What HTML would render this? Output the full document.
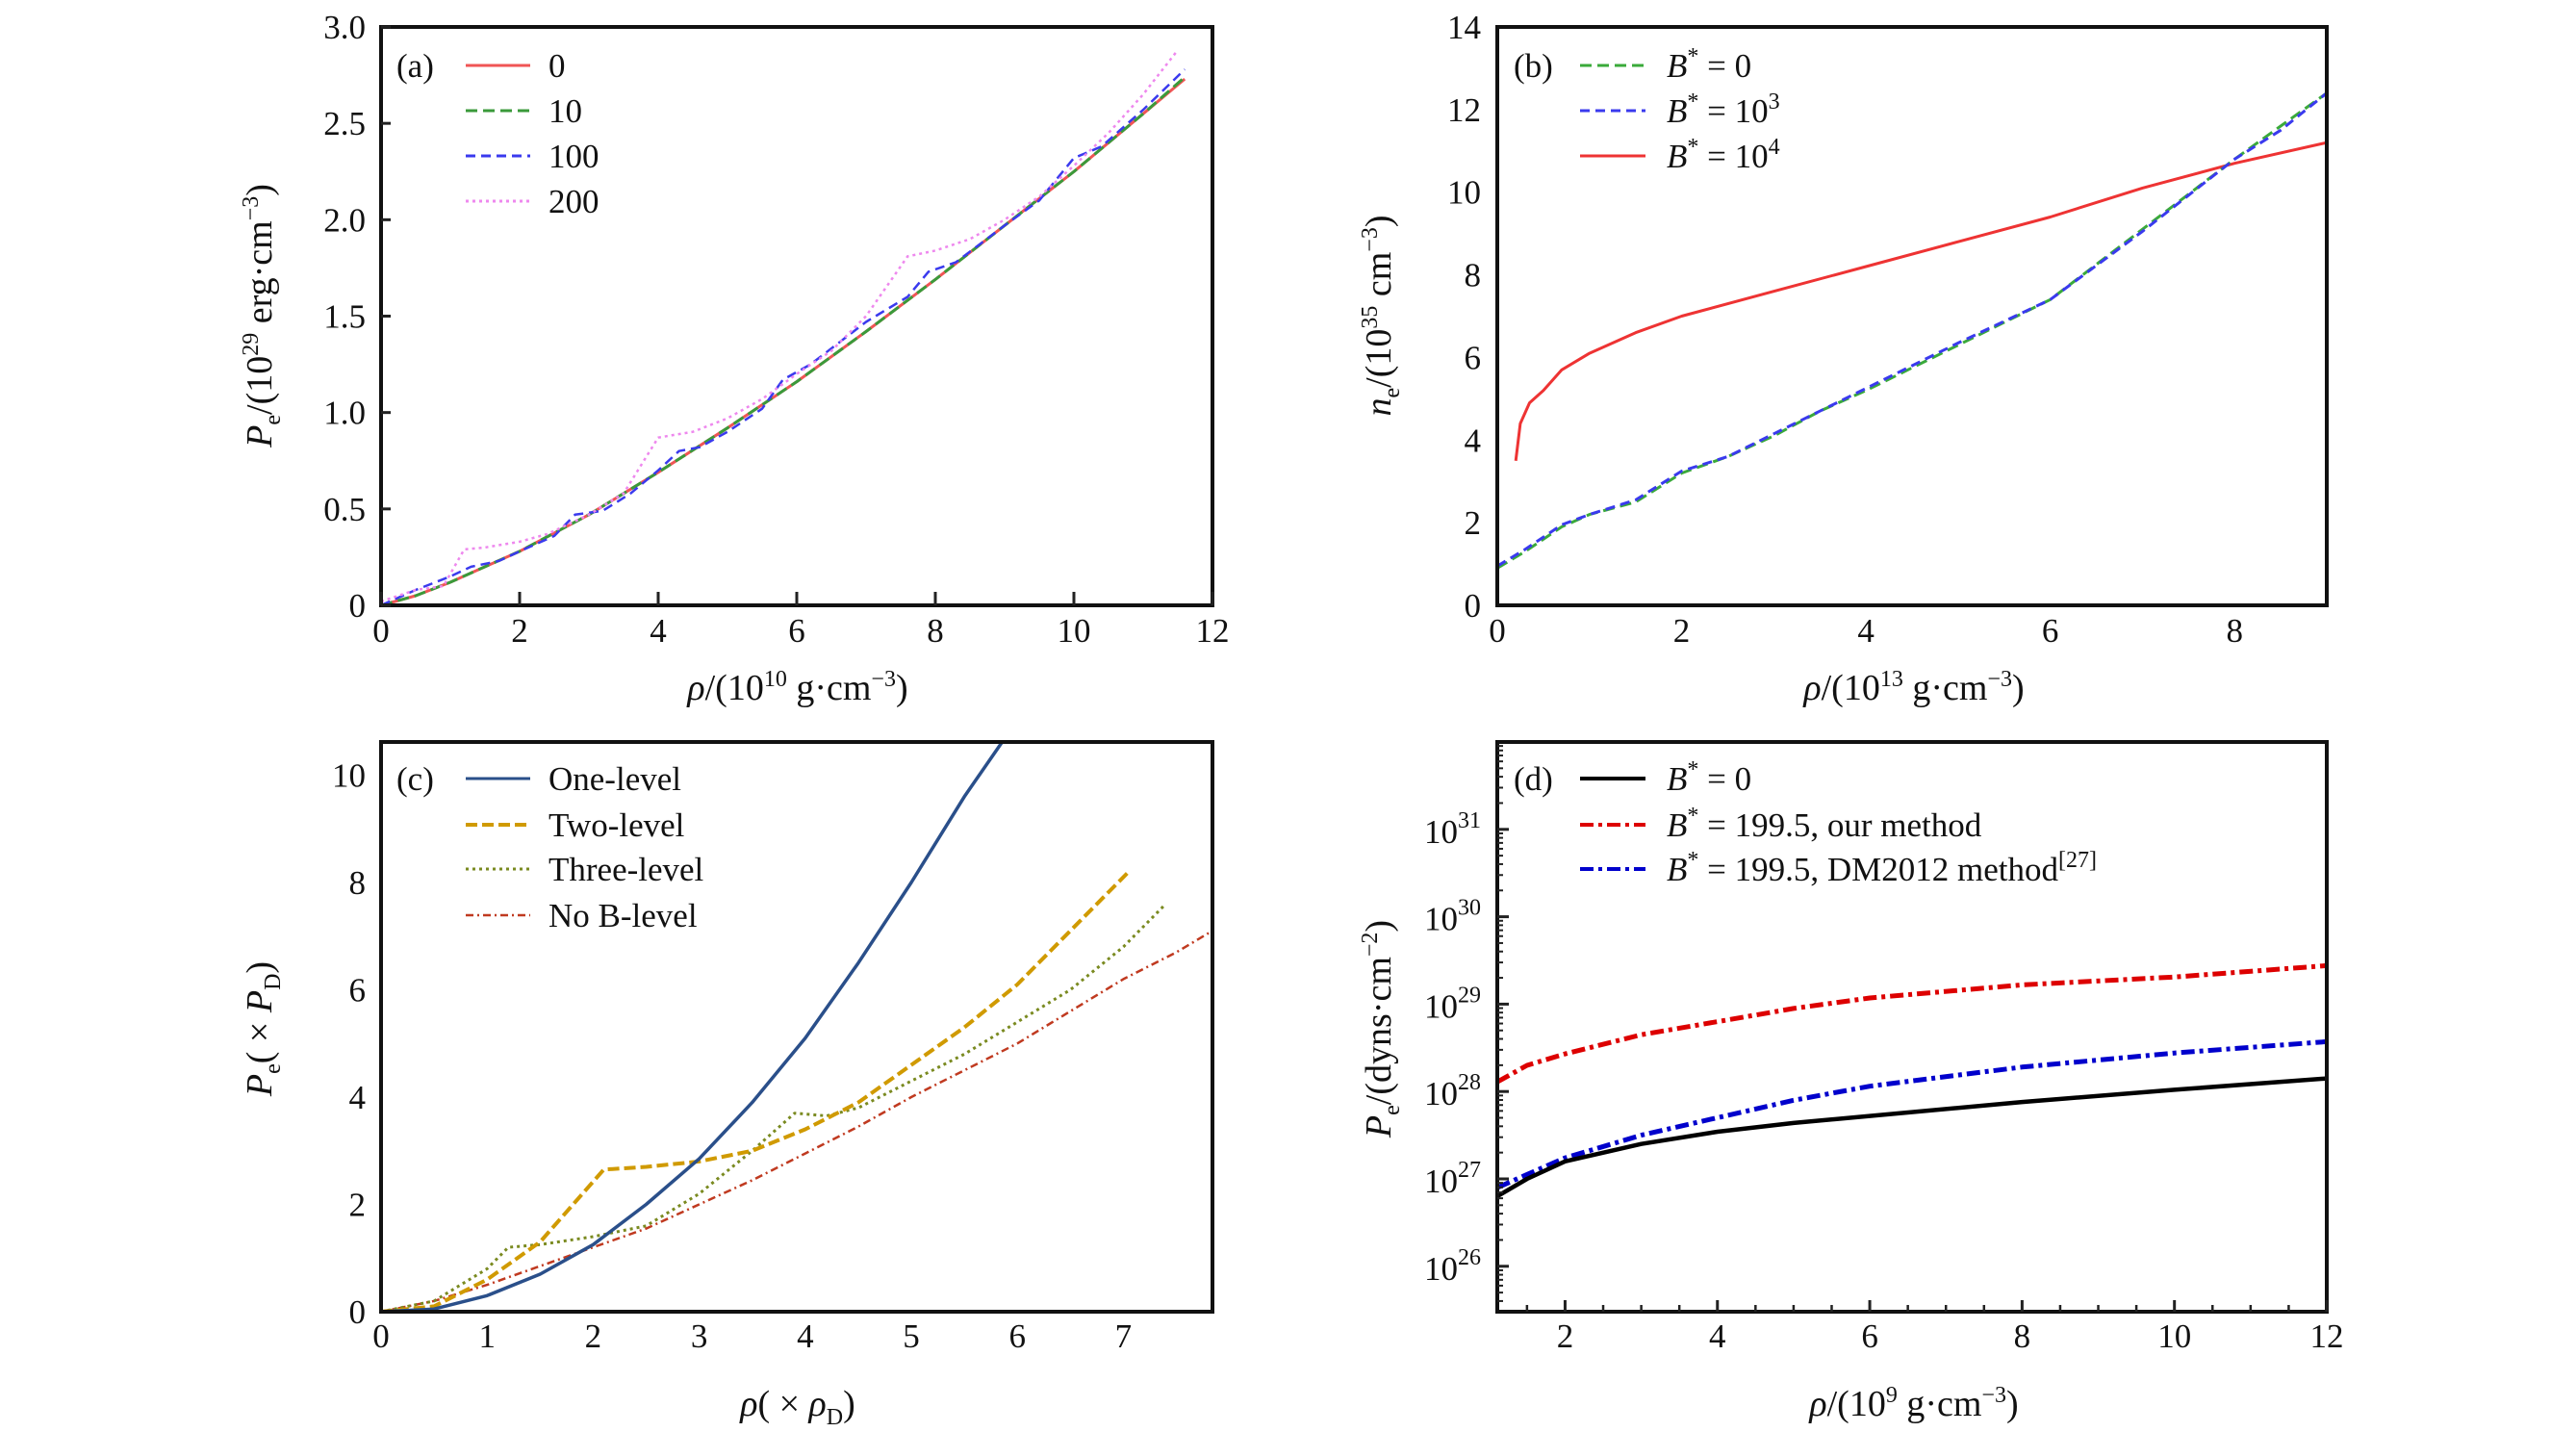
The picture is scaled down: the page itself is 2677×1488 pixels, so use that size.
<!DOCTYPE html>
<html><head><meta charset="utf-8"><style>
html,body{margin:0;padding:0;background:#fff;}
svg{display:block;font-family:"Liberation Serif",serif;}
</style></head><body>
<svg id="fig" width="2677" height="1488" viewBox="0 0 2677 1488"></svg>
<script>
// ---- Panel (a) data ----
const aX0 = [0,0.5,1,1.5,2,3,4,5,6,7,8,9,10,11,11.6];
const aY0 = [0,0.05,0.12,0.2,0.28,0.47,0.69,0.92,1.16,1.42,1.69,1.97,2.25,2.55,2.73];
const aY10 = [0,0.05,0.12,0.2,0.28,0.47,0.69,0.92,1.16,1.42,1.69,1.97,2.25,2.55,2.74];
const aX100 = [0,0.5,1,1.3,1.7,2,2.5,2.8,3.2,3.6,4,4.3,4.6,5,5.5,5.8,6.2,7,7.6,7.9,8.3,9,9.5,10,10.4,11,11.6];
const aY100 = [0,0.08,0.15,0.2,0.23,0.28,0.36,0.47,0.49,0.58,0.7,0.8,0.82,0.9,1.02,1.17,1.25,1.47,1.6,1.73,1.78,1.97,2.1,2.32,2.38,2.57,2.78];
const aX200 = [0,0.5,0.9,1.2,1.5,2,2.4,3,3.5,4,4.5,5,5.5,6,6.5,7,7.6,8,8.5,9,9.5,10,10.5,11,11.5];
const aY200 = [0.02,0.08,0.1,0.29,0.3,0.33,0.37,0.47,0.58,0.87,0.9,0.97,1.07,1.2,1.32,1.5,1.81,1.84,1.9,2.0,2.12,2.28,2.45,2.65,2.88];
const aXTicks = [0,2,4,6,8,10,12];
const aYTicks = [0,0.5,1.0,1.5,2.0,2.5,3.0];
const aYLabels = ["0","0.5","1.0","1.5","2.0","2.5","3.0"];
// ---- Panel (b) data ----
const bXr = [0.2,0.25,0.35,0.5,0.7,1,1.5,2,3,4,5,6,7,8,9];
const bYr = [3.5,4.4,4.9,5.2,5.7,6.1,6.6,7.0,7.6,8.2,8.8,9.4,10.1,10.7,11.2];
const bXg = [0,0.3,0.7,1,1.5,2,2.5,3,3.5,4,5,6,7,8,8.5,9];
const bYg = [0.9,1.3,1.9,2.2,2.5,3.2,3.6,4.1,4.7,5.2,6.3,7.4,9.1,10.8,11.6,12.4];
const bYb = [0.95,1.35,1.95,2.2,2.55,3.25,3.6,4.15,4.7,5.25,6.35,7.4,9.05,10.8,11.5,12.4];
const bXTicks = [0,2,4,6,8];
const bYTicks = [0,2,4,6,8,10,12,14];
// ---- Panel (c) data ----
const cX1 = [0,0.5,1,1.5,2,2.5,3,3.5,4,4.5,5,5.5,5.85];
const cY1 = [0,0.05,0.3,0.7,1.25,2,2.85,3.9,5.1,6.5,8,9.6,10.6];
const cX2 = [0,0.5,1,1.5,2.1,2.5,3,3.5,4,4.5,5,5.5,6,6.5,7.05];
const cY2 = [0,0.1,0.6,1.3,2.65,2.7,2.8,3.0,3.4,3.9,4.6,5.3,6.1,7.1,8.2];
const cX3 = [0,0.5,1,1.2,1.5,2,2.5,3,3.5,3.9,4.2,4.5,5,5.5,6,6.5,7,7.4];
const cY3 = [0,0.2,0.8,1.2,1.25,1.4,1.6,2.2,3.0,3.7,3.65,3.8,4.3,4.8,5.4,6.0,6.8,7.6];
const cX4 = [0,0.5,1,1.5,2,2.5,3,3.5,4,4.5,5,5.5,6,6.5,7,7.5,7.84];
const cY4 = [0,0.2,0.5,0.85,1.2,1.55,2.0,2.45,2.95,3.45,4.0,4.5,5.0,5.6,6.2,6.7,7.1];
const cXTicks = [0,1,2,3,4,5,6,7];
const cYTicks = [0,2,4,6,8,10];
// ---- Panel (d) data (log10 of P) ----
const dX = [1.11,1.5,2,3,4,5,6,8,10,12];
const dYk = [26.8,27.0,27.2,27.4,27.54,27.64,27.72,27.88,28.02,28.15];
const dYr = [28.11,28.3,28.43,28.65,28.8,28.95,29.07,29.22,29.31,29.44];
const dYb = [26.9,27.05,27.24,27.5,27.7,27.9,28.06,28.28,28.44,28.57];
const dXTicks = [2,4,6,8,10,12];
const dYTicks = [26,27,28,29,30,31];

const NS = "http://www.w3.org/2000/svg";
const svg = document.getElementById('fig');
function mk(tag, attrs, parent){ const e=document.createElementNS(NS,tag); for(const k in attrs) e.setAttribute(k,attrs[k]); (parent||svg).appendChild(e); return e; }
function scale(d0,d1,r0,r1){ return v => r0 + (v-d0)/(d1-d0)*(r1-r0); }

function panel(name, box, xd, yd){
  const g = mk('g',{});
  
  
  const sx = scale(xd[0],xd[1],box.x0,box.x1), sy = scale(yd[0],yd[1],box.y1,box.y0);
  return {g, sx, sy, box};
}
function frame(p, name){
  const r = mk('rect',{x:p.box.x0,y:p.box.y0,width:p.box.x1-p.box.x0,height:p.box.y1-p.box.y0,fill:'none',stroke:'#111','stroke-width':4},p.g);
  
  
}
function xticks(p, vals, labels, ly, len, name){
  vals.forEach((v,i)=>{
    const x=p.sx(v);
    mk('line',{x1:x,x2:x,y1:p.box.y1,y2:p.box.y1-len,stroke:'#222','stroke-width':3},p.g);
    const t=mk('text',{x:x,y:ly,'font-size':35,'text-anchor':'middle',fill:'#111'},p.g);
    t.textContent=labels?labels[i]:String(v);
    
    
  });
}
function yticks(p, vals, labels, lx, len, name){
  vals.forEach((v,i)=>{
    const y=p.sy(v);
    mk('line',{x1:p.box.x0,x2:p.box.x0+len,y1:y,y2:y,stroke:'#222','stroke-width':3},p.g);
    const t=mk('text',{x:lx,y:y+12,'font-size':35,'text-anchor':'end',fill:'#111'},p.g);
    t.textContent=labels?labels[i]:String(v);
    
    
  });
}
function series(p, xs, ys, color, w, dash, name){
  const d = xs.map((x,i)=>(i?'L':'M')+p.sx(x).toFixed(1)+' '+p.sy(ys[i]).toFixed(1)).join(' ');
  const e = mk('path',{d:d,fill:'none',stroke:color,'stroke-width':w,'stroke-dasharray':dash||'none','stroke-linejoin':'round'},p.g);
  
  
}
function legendRow(p, x1, x2, y, color, w, dash, html, tx, name){
  const l = mk('line',{x1:x1,x2:x2,y1:y,y2:y,stroke:color,'stroke-width':w,'stroke-dasharray':dash||'none'},p.g);
  
  
  const t = mk('text',{x:tx,y:y+12,'font-size':35,fill:'#111'},p.g);
  t.innerHTML = html;
  
  
}
function label(p, x, y, html, rot, name){
  const t = mk('text',{x:x,y:y,'font-size':38,'text-anchor':'middle',fill:'#111',transform:rot?`rotate(-90 ${x} ${y})`:''},p.g);
  t.innerHTML = html;
  
  
}
const SUP = s => `<tspan baseline-shift="14" font-size="24">${s}</tspan>`;
const SUB = s => `<tspan baseline-shift="-9" font-size="24">${s}</tspan>`;

// ---------- Panel (a) ----------
const pa = panel('panel-a',{x0:396,x1:1260,y0:28,y1:629},[0,12],[0,3]);
series(pa,aX0,aY0,'#f05555',3,null,'series-0');
series(pa,aX0,aY10,'#3a9a3a',3,'12 6','series-10');
series(pa,aX100,aY100,'#3a3aee',2.5,'10 6','series-100');
series(pa,aX200,aY200,'#ee88ee',2.5,'3 4','series-200');
frame(pa,'plot-frame-a');
xticks(pa,aXTicks,null,667,14,'x-tick-label');
yticks(pa,aYTicks,aYLabels,380,10,'y-tick-label');
mk('text',{x:412,y:80,'font-size':35,fill:'#111'},pa.g).textContent='(a)';
legendRow(pa,484,551,68,'#f05555',3,null,'0',570,'legend-entry-0');
legendRow(pa,484,551,115,'#3a9a3a',3,'12 6','10',570,'legend-entry-10');
legendRow(pa,484,551,162,'#3a3aee',3,'10 6','100',570,'legend-entry-100');
legendRow(pa,484,551,209,'#ee88ee',3,'3 4','200',570,'legend-entry-200');
label(pa,829,727,`<tspan font-style="italic">ρ</tspan>/(10${SUP('10')} g·cm${SUP('−3')})`,false,'x-axis-title-a');
label(pa,282,328,`<tspan font-style="italic">P</tspan>${SUB('e')}/(10${SUP('29')} erg·cm${SUP('−3')})`,true,'y-axis-title-a');

// ---------- Panel (b) ----------
const pb = panel('panel-b',{x0:1556,x1:2418,y0:28,y1:629},[0,9],[0,14]);
series(pb,bXr,bYr,'#ee3333',3,null,'series-b-1e4');
series(pb,bXg,bYg,'#3aaa3a',3,'12 6','series-b-0');
series(pb,bXg,bYb,'#3a3aee',3,'10 6','series-b-1e3');
frame(pb,'plot-frame-b');
xticks(pb,bXTicks,null,667,0,'x-tick-label');
yticks(pb,bYTicks,null,1539,0,'y-tick-label');
mk('text',{x:1573,y:80,'font-size':35,fill:'#111'},pb.g).textContent='(b)';
legendRow(pb,1642,1710,68,'#3aaa3a',3,'12 6',`<tspan font-style="italic">B</tspan>${SUP('*')} = 0`,1732,'legend-entry-b0');
legendRow(pb,1642,1710,115,'#3a3aee',3,'10 6',`<tspan font-style="italic">B</tspan>${SUP('*')} = 10${SUP('3')}`,1732,'legend-entry-b1e3');
legendRow(pb,1642,1710,162,'#ee3333',3,null,`<tspan font-style="italic">B</tspan>${SUP('*')} = 10${SUP('4')}`,1732,'legend-entry-b1e4');
label(pb,1989,727,`<tspan font-style="italic">ρ</tspan>/(10${SUP('13')} g·cm${SUP('−3')})`,false,'x-axis-title-b');
label(pb,1445,328,`<tspan font-style="italic">n</tspan>${SUB('e')}/(10${SUP('35')} cm${SUP('−3')})`,true,'y-axis-title-b');

// ---------- Panel (c) ----------
const pc = panel('panel-c',{x0:396,x1:1260,y0:771,y1:1363},[0,7.84],[0,10.62]);
series(pc,cX4,cY4,'#c03a20',2.5,'8 4 2 4','series-no-b-level');
series(pc,cX3,cY3,'#7a8a20',3,'3 4','series-three-level');
series(pc,cX2,cY2,'#d09a00',4,'12 5','series-two-level');
series(pc,cX1,cY1,'#2a4f8a',3.5,null,'series-one-level');
frame(pc,'plot-frame-c');
xticks(pc,cXTicks,null,1400,0,'x-tick-label');
yticks(pc,cYTicks,null,380,0,'y-tick-label');
mk('text',{x:412,y:821,'font-size':35,fill:'#111'},pc.g).textContent='(c)';
legendRow(pc,484,551,809,'#2a4f8a',3,null,'One-level',570,'legend-entry-one-level');
legendRow(pc,484,551,857,'#d09a00',4,'12 5','Two-level',570,'legend-entry-two-level');
legendRow(pc,484,551,903,'#7a8a20',3,'3 4','Three-level',570,'legend-entry-three-level');
legendRow(pc,484,551,951,'#c03a20',2.5,'8 4 2 4','No B-level',570,'legend-entry-no-b-level');
label(pc,829,1471,`<tspan font-style="italic">ρ</tspan>( × <tspan font-style="italic">ρ</tspan>${SUB('D')})`,false,'x-axis-title-c');
label(pc,282,1069,`<tspan font-style="italic">P</tspan>${SUB('e')}( × <tspan font-style="italic">P</tspan>${SUB('D')})`,true,'y-axis-title-c');

// ---------- Panel (d) ----------
const pd = panel('panel-d',{x0:1556,x1:2418,y0:771,y1:1363},[1.11,12],[25.48,32.0]);
series(pd,dX,dYr,'#dd0000',5,'14 5 4 5','series-our-method');
series(pd,dX,dYb,'#0000cc',5,'14 5 4 5','series-dm2012');
series(pd,dX,dYk,'#000000',4.5,null,'series-b0');
frame(pd,'plot-frame-d');
xticks(pd,dXTicks,null,1400,12,'x-tick-label');
for(let v=1.5; v<12; v+=0.5){ if(v%2!==0){const x=pd.sx(v); mk('line',{x1:x,x2:x,y1:1363,y2:1356,stroke:'#222','stroke-width':2.5},pd.g);} }
dYTicks.forEach(v=>{
  const y=pd.sy(v);
  mk('line',{x1:1556,x2:1568,y1:y,y2:y,stroke:'#222','stroke-width':3},pd.g);
  const t=mk('text',{x:1539,y:y+14,'font-size':35,'text-anchor':'end',fill:'#111'},pd.g);
  t.innerHTML='10'+`<tspan baseline-shift="16" font-size="24">${v}</tspan>`;
  
  
});
for(let dcd=25; dcd<32; dcd++){ for(let m=2;m<10;m++){ const lv=dcd+Math.log10(m); if(lv>25.48&&lv<32){const y=pd.sy(lv); mk('line',{x1:1556,x2:1562,y1:y,y2:y,stroke:'#222','stroke-width':2},pd.g);} } }
mk('text',{x:1573,y:821,'font-size':35,fill:'#111'},pd.g).textContent='(d)';
legendRow(pd,1642,1710,809,'#000',4,null,`<tspan font-style="italic">B</tspan>${SUP('*')} = 0`,1732,'legend-entry-d-b0');
legendRow(pd,1642,1710,857,'#dd0000',4,'14 5 4 5',`<tspan font-style="italic">B</tspan>${SUP('*')} = 199.5, our method`,1732,'legend-entry-our-method');
legendRow(pd,1642,1710,903,'#0000cc',4,'14 5 4 5',`<tspan font-style="italic">B</tspan>${SUP('*')} = 199.5, DM2012 method${SUP('[27]')}`,1732,'legend-entry-dm2012');
label(pd,1989,1471,`<tspan font-style="italic">ρ</tspan>/(10${SUP('9')} g·cm${SUP('−3')})`,false,'x-axis-title-d');
label(pd,1445,1069,`<tspan font-style="italic">P</tspan>${SUB('e')}/(dyns·cm${SUP('−2')})`,true,'y-axis-title-d');
</script>
</body></html>
